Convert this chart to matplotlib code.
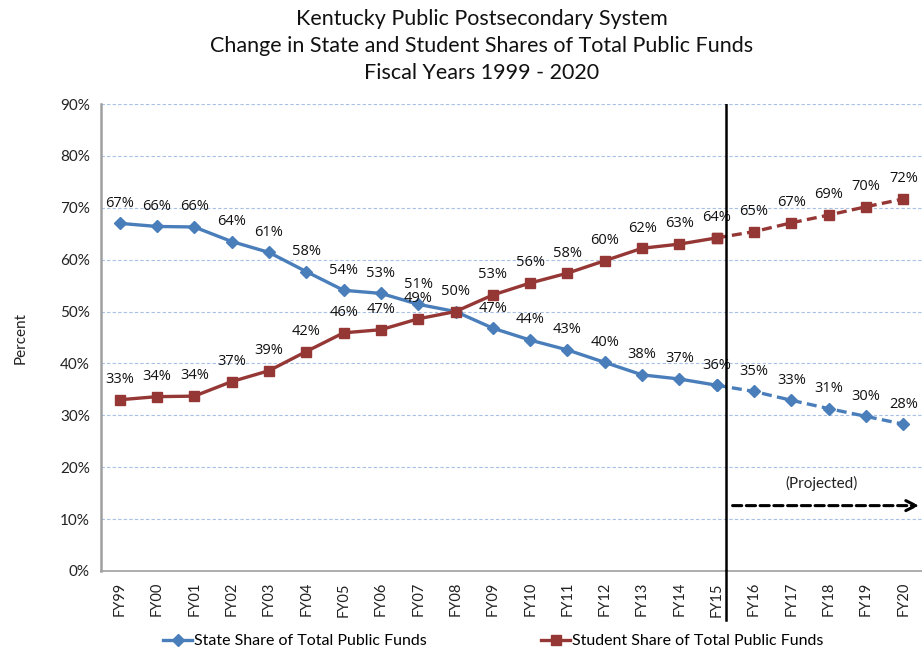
import matplotlib
matplotlib.use("Agg")
import matplotlib.pyplot as plt
from matplotlib.lines import Line2D
import numpy as np

years = ["FY99", "FY00", "FY01", "FY02", "FY03", "FY04", "FY05", "FY06", "FY07", "FY08", "FY09",
         "FY10", "FY11", "FY12", "FY13", "FY14", "FY15", "FY16", "FY17", "FY18", "FY19", "FY20"]
state_share = [67.0, 66.4, 66.3, 63.5, 61.4, 57.7, 54.1, 53.5, 51.4, 50.0, 46.8,
               44.5, 42.6, 40.2, 37.8, 37.0, 35.8, 34.6, 32.9, 31.3, 29.8, 28.3]
student_share = [33.0, 33.6, 33.7, 36.5, 38.6, 42.3, 45.9, 46.5, 48.6, 50.0, 53.2,
                 55.5, 57.4, 59.8, 62.2, 63.0, 64.2, 65.4, 67.1, 68.6, 70.2, 71.7]
state_labels = ["67%", "66%", "66%", "64%", "61%", "58%", "54%", "53%", "51%", "50%", "47%",
                "44%", "43%", "40%", "38%", "37%", "36%", "35%", "33%", "31%", "30%", "28%"]
student_labels = ["33%", "34%", "34%", "37%", "39%", "42%", "46%", "47%", "49%", "", "53%",
                  "56%", "58%", "60%", "62%", "63%", "64%", "65%", "67%", "69%", "70%", "72%"]
last_actual = "FY15"

title = "Kentucky Public Postsecondary System\nChange in State and Student Shares of Total Public Funds\nFiscal Years 1999 - 2020"

BLUE = "#4A7EBB"
RED = "#953735"
TFONT = ["Lato", "DejaVu Sans"]
LFONT = ["Open Sans", "DejaVu Sans"]

fig = plt.figure(figsize=(9.22, 6.54), dpi=100)
ax = fig.add_axes([101/922, 1-571/654, 821/922, (571-104)/654])

x = np.arange(len(years))
k = years.index(last_actual)

for vals, color, marker, ms, lbls in [(state_share, BLUE, "D", 6.5, state_labels),
                                       (student_share, RED, "s", 7.5, student_labels)]:
    ax.plot(x[:k+1], vals[:k+1], color=color, lw=2.4, marker=marker, ms=ms, zorder=3)
    ax.plot(x[k:], vals[k:], color=color, lw=2.4, ls=(0, (3, 1.6)), marker=marker, ms=ms, zorder=3)
    for xi, v, s in zip(x, vals, lbls):
        ax.annotate(s, (xi, v), xytext=(0, 14.5), textcoords="offset points",
                    ha="center", va="center", fontsize=10.5, family=LFONT, color="#111111")

ax.set_xlim(-0.5, len(years) - 0.5)
ax.set_ylim(0, 90)
ax.set_yticks(np.arange(0, 91, 10))
ax.set_yticklabels([f"{v}%" for v in range(0, 91, 10)], family=TFONT, fontsize=11, color="#222222")
ax.set_xticks(x)
ax.set_xticklabels(years, rotation=90, family=TFONT, fontsize=10.5, color="#222222")
ax.tick_params(axis="both", length=0, pad=8)
ax.yaxis.grid(True, color="#A8C0E4", ls=(0, (3, 2)), lw=0.8)
ax.set_axisbelow(True)
for s in ["top", "right"]:
    ax.spines[s].set_visible(False)
ax.spines["left"].set_color("#A0A0A0")
ax.spines["left"].set_linewidth(1.8)
ax.spines["bottom"].set_color("#A0A0A0")
ax.spines["bottom"].set_linewidth(1.2)

ax.set_ylabel("Percent", family=TFONT, fontsize=11, color="#222222", labelpad=23)

# projection divider and arrow
ax.axvline(k + 0.25, ymin=0, ymax=1.0, color="black", lw=1.8, zorder=4)
ax.plot([k + 0.25, k + 0.25], [0, -9.5], color="black", lw=1.8, clip_on=False, zorder=4)
ax.annotate("", xy=(len(years) - 0.5, 12.6), xytext=(k + 0.35, 12.6),
            arrowprops=dict(arrowstyle="->", color="black", lw=2.2, ls=(0, (3, 1.5)),
                            mutation_scale=18), annotation_clip=False)
ax.text(18.82, 16.8, "(Projected)", ha="center", va="center", family=TFONT, fontsize=11, color="#222222")

fig.text(482/922, 1-46/654, title, ha="center", va="center", family=TFONT, fontsize=15.5,
         linespacing=1.45, color="#111111")

handles = [Line2D([], [], color=BLUE, lw=2.4, marker="D", ms=6.5),
           Line2D([], [], color=RED, lw=2.4, marker="s", ms=7.5)]
fig.legend(handles, ["State Share of Total Public Funds", "Student Share of Total Public Funds"],
           loc="center", bbox_to_anchor=(0.535, 1-641/654), ncol=2, frameon=False,
           prop=dict(family=TFONT, size=11.5), handlelength=1.8, handletextpad=0.1, columnspacing=7.2)

fig.savefig("out.png", dpi=100)
